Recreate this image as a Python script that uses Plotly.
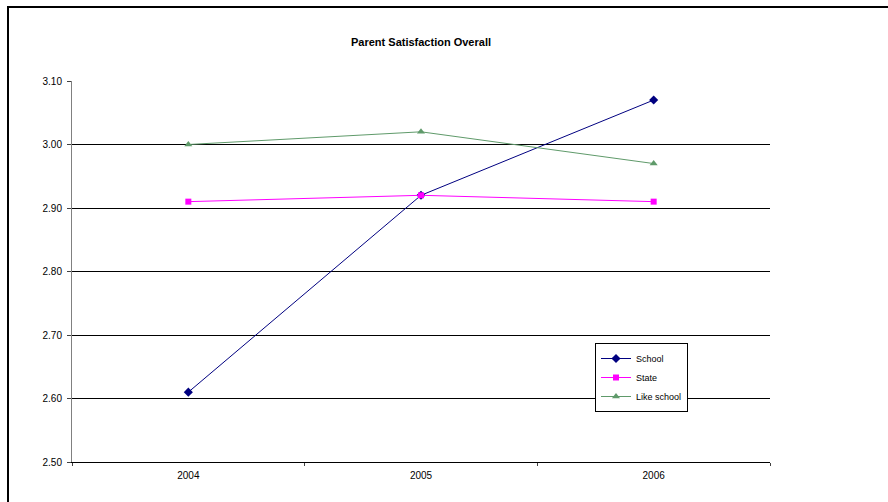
import plotly.graph_objects as go

years = ["2004", "2005", "2006"]
school = [2.61, 2.92, 3.07]
state = [2.91, 2.92, 2.91]
like_school = [3.00, 3.02, 2.97]
y_ticks = [2.50, 2.60, 2.70, 2.80, 2.90, 3.00, 3.10]

W, H = 888, 502
L, R, T, B = 72, 770, 81, 462

fig = go.Figure()
fig.add_trace(go.Scatter(x=years, y=school, name="School", mode="lines+markers",
                         line=dict(color="#000080", width=1),
                         marker=dict(symbol="diamond", size=7, color="#000080")))
fig.add_trace(go.Scatter(x=years, y=state, name="State", mode="lines+markers",
                         line=dict(color="#FF00FF", width=1),
                         marker=dict(symbol="square", size=6, color="#FF00FF")))
fig.add_trace(go.Scatter(x=years, y=like_school, name="Like school", mode="lines+markers",
                         line=dict(color="#5F9A6A", width=1),
                         marker=dict(symbol="triangle-up", size=7, color="#5F9A6A")))

pw, ph = R - L, B - T
def px(x):
    return (x - L) / pw
def py(y):
    return (B - y) / ph

fig.add_shape(type="rect", xref="paper", yref="paper",
              x0=px(8), x1=px(900), y0=py(520), y1=py(7),
              line=dict(color="black", width=2), fillcolor="rgba(0,0,0,0)", layer="below")

fig.update_layout(
    width=W, height=H,
    margin=dict(l=L, r=W - R, t=T, b=H - B),
    paper_bgcolor="white", plot_bgcolor="white",
    font=dict(family="Arial, Liberation Sans, sans-serif", size=10, color="black"),
    title=dict(text="<b>Parent Satisfaction Overall</b>", x=(L + R) / 2 / W, xanchor="center",
               y=1 - 42 / H, yanchor="middle", font=dict(size=11)),
    showlegend=True,
    legend=dict(x=px(595), y=py(343), xanchor="left", yanchor="top",
                bordercolor="black", borderwidth=1, bgcolor="white",
                font=dict(size=9), tracegroupgap=0, itemwidth=30),
)
fig.update_xaxes(type="category", range=[-0.5, 2.5], tickson="boundaries", ticks="outside",
                 ticklen=3, tickcolor="#404040", showline=True, linecolor="black", linewidth=1,
                 showgrid=False, mirror=False, fixedrange=True, tickfont=dict(size=10),
                 ticklabelstandoff=4)
fig.update_yaxes(range=[2.50, 3.10], tickvals=y_ticks, tickformat=".2f", ticks="outside",
                 ticklen=4, tickcolor="#404040", showline=True, linecolor="#808080",
                 linewidth=1, showgrid=True, gridcolor="black", gridwidth=1,
                 zeroline=False, fixedrange=True, tickfont=dict(size=10),
                 ticklabelstandoff=3)

fig.write_html("out.html")
